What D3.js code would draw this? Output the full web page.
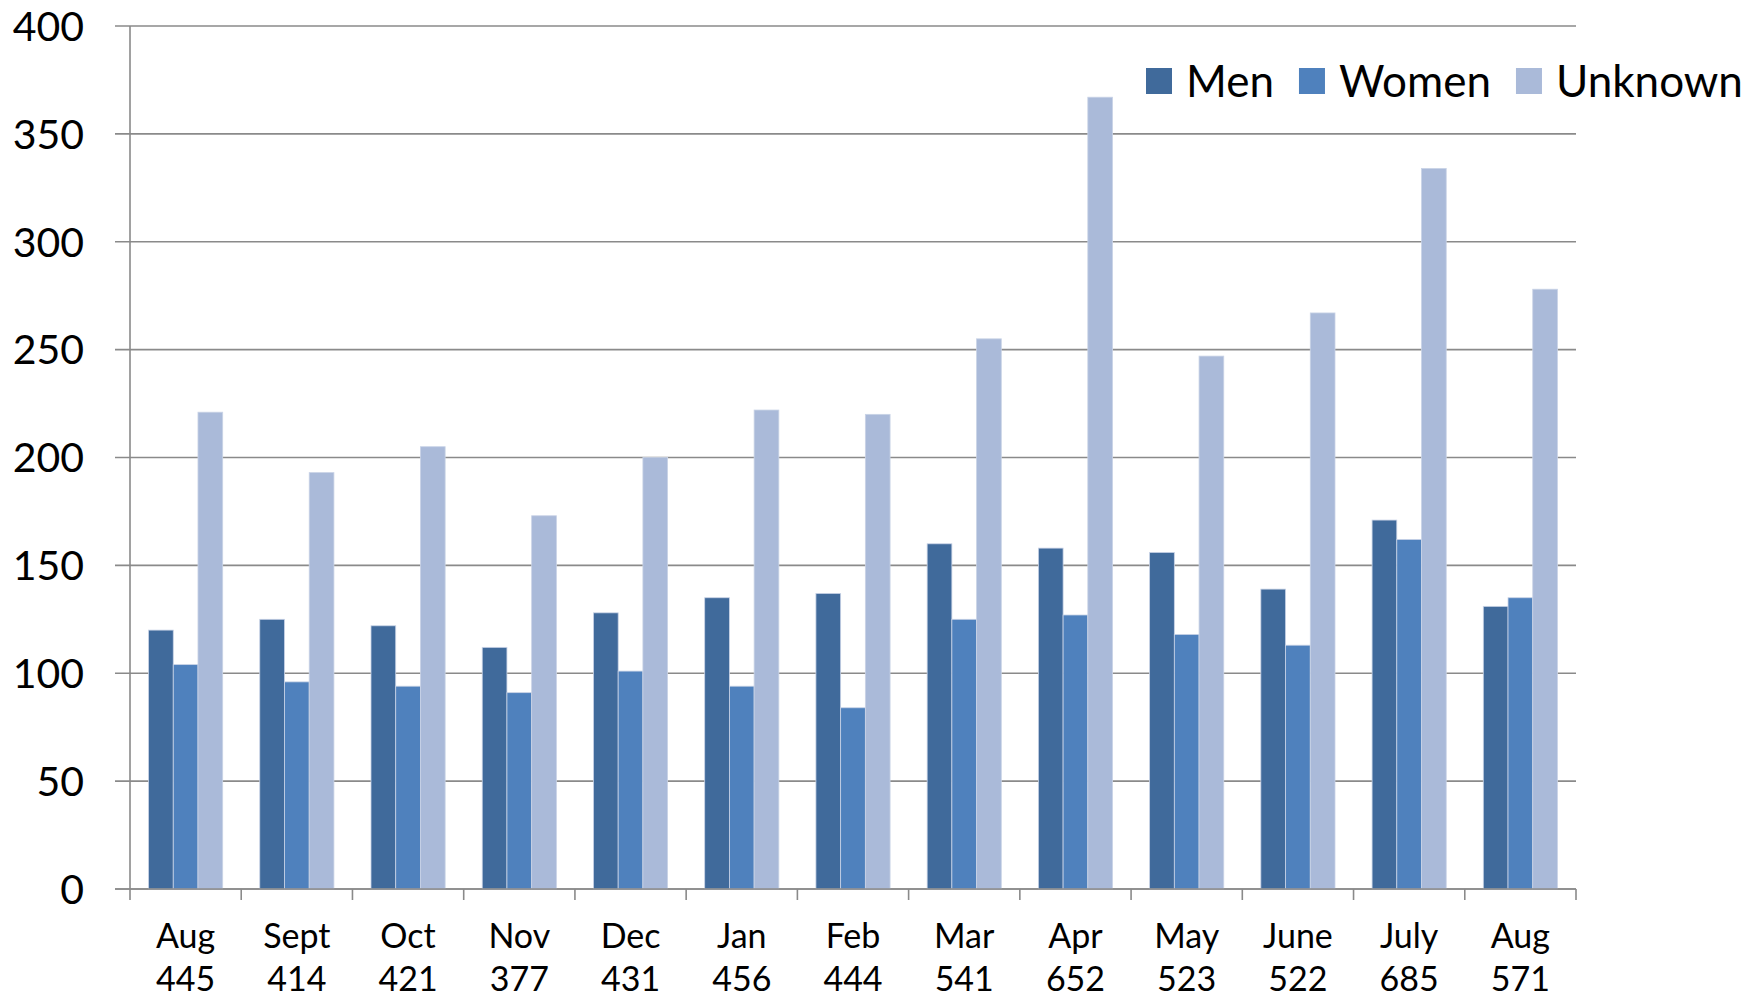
<!DOCTYPE html>
<html>
<head>
<meta charset="utf-8">
<script src="https://cdn.jsdelivr.net/npm/d3@7"></script>
<style>
	body { margin: 0; background: #fff; }
	text { font-family: Lato, "Open Sans", sans-serif; fill: #000; }
</style>
</head>
<body>
<svg width="1759" height="997"></svg>
<script>
// chart data
const months = ["Aug", "Sept", "Oct", "Nov", "Dec", "Jan", "Feb", "Mar", "Apr", "May", "June", "July", "Aug"];
const totals = [445, 414, 421, 377, 431, 456, 444, 541, 652, 523, 522, 685, 571];
const men = [120, 125, 122, 112, 128, 135, 137, 160, 158, 156, 139, 171, 131];
const women = [104, 96, 94, 91, 101, 94, 84, 125, 127, 118, 113, 162, 135];
const unknown = [221, 193, 205, 173, 200, 222, 220, 255, 367, 247, 267, 334, 278];
const seriesNames = ["Men", "Women", "Unknown"];
const yTicks = [0, 50, 100, 150, 200, 250, 300, 350, 400];

const colors = ["#406a9b", "#4f81bd", "#aabad9"];

let svg = d3.select("svg");
const plotLeft = 130, plotRight = 1576, plotTop = 26, plotBottom = 889;

let rows = months.map((m, i) => ({
	key: i,
	month: m,
	total: totals[i],
	values: [men[i], women[i], unknown[i]]
}));

let x = d3.scaleBand()
	.domain(rows.map(d => d.key))
	.range([plotLeft, plotRight])
	.padding(0);

// bars take 3 of 4.5 bar widths in each group (gap width 150%)
let gap = x.bandwidth() * 0.75 / 4.5;
let x1 = d3.scaleBand()
	.domain(d3.range(3))
	.range([gap, x.bandwidth() - gap])
	.padding(0);

let y = d3.scaleLinear()
	.domain([0, 400])
	.range([plotBottom, plotTop]);

// gridlines
svg.append("g")
	.selectAll("line")
	.data(yTicks)
	.enter().append("line")
	.attr("x1", plotLeft - 15)
	.attr("x2", plotRight)
	.attr("y1", d => y(d))
	.attr("y2", d => y(d))
	.attr("stroke", "#8a8a8a")
	.attr("stroke-width", 1.6);

// y labels
svg.append("g")
	.selectAll("text")
	.data(yTicks)
	.enter().append("text")
	.attr("x", 84)
	.attr("y", d => y(d))
	.attr("dy", "0.36em")
	.attr("text-anchor", "end")
	.style("font-size", "41px")
	.text(d => d);

// bars
let groups = svg.append("g")
	.selectAll("g")
	.data(rows)
	.enter().append("g")
	.attr("transform", d => "translate(" + x(d.key) + ",0)");

groups.selectAll("rect")
	.data(d => d.values.map((v, j) => ({ v: v, j: j })))
	.enter().append("rect")
	.attr("x", d => x1(d.j))
	.attr("width", x1.bandwidth())
	.attr("y", d => y(d.v))
	.attr("height", d => y(0) - y(d.v))
	.attr("fill", d => colors[d.j])
	.attr("stroke", "#c9d3e6")
	.attr("stroke-width", 0.8);

// axis lines
svg.append("line")
	.attr("x1", plotLeft).attr("x2", plotLeft)
	.attr("y1", plotTop).attr("y2", plotBottom)
	.attr("stroke", "#8a8a8a").attr("stroke-width", 1.6);

svg.append("line")
	.attr("x1", plotLeft - 15).attr("x2", plotRight)
	.attr("y1", plotBottom).attr("y2", plotBottom)
	.attr("stroke", "#8a8a8a").attr("stroke-width", 1.6);

// x ticks at group boundaries
let bounds = rows.map(d => x(d.key)).concat([plotRight]);
svg.append("g")
	.selectAll("line")
	.data(bounds)
	.enter().append("line")
	.attr("x1", d => d).attr("x2", d => d)
	.attr("y1", plotBottom).attr("y2", plotBottom + 11)
	.attr("stroke", "#8a8a8a").attr("stroke-width", 1.6);

// x labels
let labels = svg.append("g")
	.selectAll("g")
	.data(rows)
	.enter().append("g")
	.attr("transform", d => "translate(" + (x(d.key) + x.bandwidth() / 2) + ",0)");

labels.append("text")
	.attr("y", 948)
	.attr("text-anchor", "middle")
	.style("font-size", "34px")
	.text(d => d.month);

labels.append("text")
	.attr("y", 991)
	.attr("text-anchor", "middle")
	.style("font-size", "34px")
	.text(d => d.total);

// legend
let legend = svg.append("g").attr("class", "legend");
let lx = 1146;
seriesNames.forEach((name, i) => {
	legend.append("rect")
		.attr("x", lx)
		.attr("y", 68)
		.attr("width", 26)
		.attr("height", 26)
		.attr("fill", colors[i]);
	let t = legend.append("text")
		.attr("x", lx + 40)
		.attr("y", 97)
		.style("font-size", "44px")
		.text(name);
	lx += 40 + t.node().getComputedTextLength() + 25;
});
</script>
</body>
</html>
